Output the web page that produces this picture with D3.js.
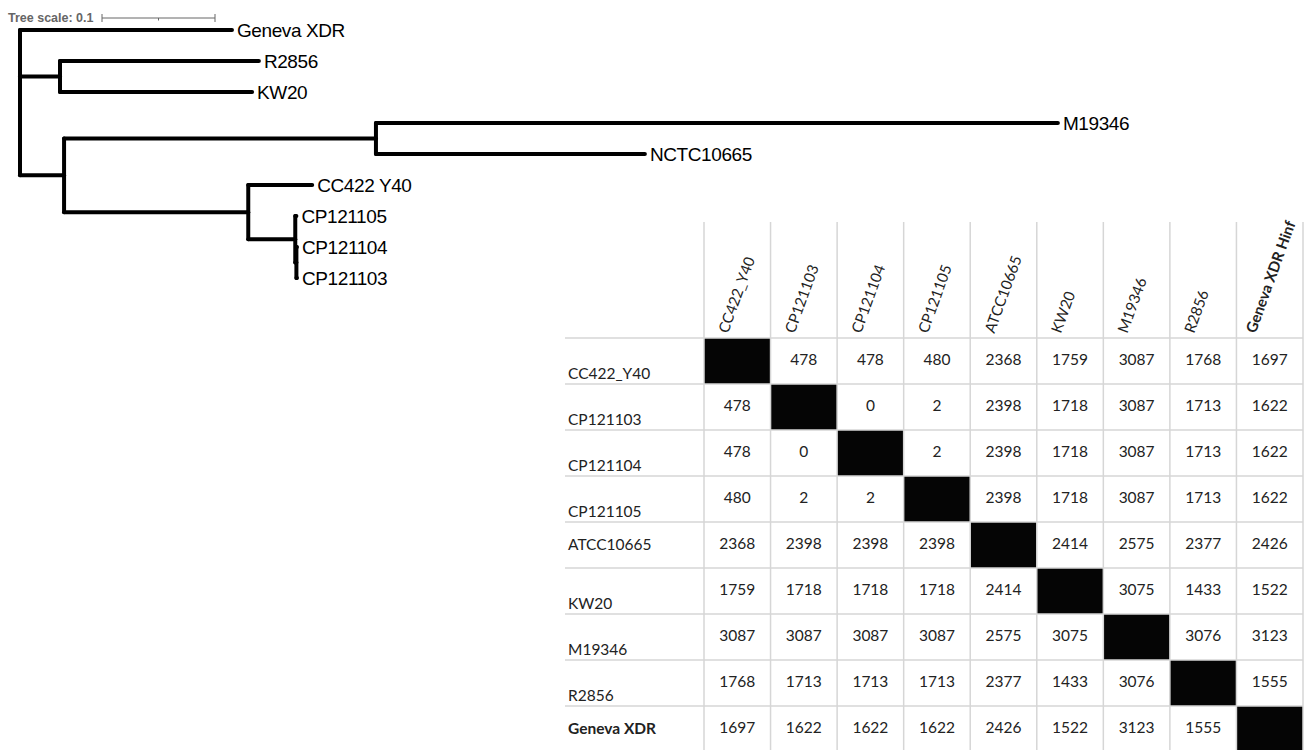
<!DOCTYPE html>
<html>
<head>
<meta charset="utf-8">
<script src="https://cdn.jsdelivr.net/npm/d3@7"></script>
<style>
  body { margin: 0; background: #fff; }
  svg { display: block; }
</style>
</head>
<body>
<div id="Area"></div>
<script>
// tree: [name, branch length, children]
var tree = ["root", 0, [
    ["Geneva XDR", 0.1876],
    ["", 0.0354, [
        ["R2856", 0.176],
        ["KW20", 0.170]
    ]],
    ["", 0.039, [
        ["", 0.276, [
            ["M19346", 0.6035],
            ["NCTC10665", 0.238]
        ]],
        ["", 0.163, [
            ["CC422 Y40", 0.0566],
            ["", 0.0416, [
                ["CP121105", 0.001],
                ["", 0.001, [
                    ["CP121104", 0.0005],
                    ["CP121103", 0.0005]
                ]]
            ]]
        ]]
    ]]
]];

// SNP distance matrix
var rowNames = ["CC422_Y40", "CP121103", "CP121104", "CP121105", "ATCC10665", "KW20", "M19346", "R2856", "Geneva XDR"];
var colNames = ["CC422_Y40", "CP121103", "CP121104", "CP121105", "ATCC10665", "KW20", "M19346", "R2856", "Geneva XDR Hinf"];
var distances = [
    [null, 478, 478, 480, 2368, 1759, 3087, 1768, 1697],
    [478, null, 0, 2, 2398, 1718, 3087, 1713, 1622],
    [478, 0, null, 2, 2398, 1718, 3087, 1713, 1622],
    [480, 2, 2, null, 2398, 1718, 3087, 1713, 1622],
    [2368, 2398, 2398, 2398, null, 2414, 2575, 2377, 2426],
    [1759, 1718, 1718, 1718, 2414, null, 3075, 1433, 1522],
    [3087, 3087, 3087, 3087, 2575, 3075, null, 3076, 3123],
    [1768, 1713, 1713, 1713, 2377, 1433, 3076, null, 1555],
    [1697, 1622, 1622, 1622, 2426, 1522, 3123, 1555, null]
];
var scaleBarValues = [0, 0.05, 0.1];

var width = 1304, height = 750;
var svg = d3.select("#Area").append("svg")
    .attr("width", width)
    .attr("height", height);

// ---------- tree ----------
var root = d3.hierarchy(tree, function(d) { return d[2]; });
root.eachBefore(function(n) {
    n.len = (n.parent ? n.parent.len : 0) + n.data[1];
});

var x = d3.scaleLinear().domain([0, 1]).range([20, 1150]);
var leaves = root.leaves();
var leafY = d3.scalePoint()
    .domain(leaves.map(function(d) { return d.data[0]; }))
    .range([30, 278]);

root.eachAfter(function(n) {
    if (!n.children) n.y = leafY(n.data[0]);
    else n.y = (n.children[0].y + n.children[n.children.length - 1].y) / 2;
});

var treeG = svg.append("g")
    .attr("fill", "none")
    .attr("stroke", "black")
    .attr("stroke-width", 4)
    .attr("stroke-linecap", "round");

// horizontal branches
treeG.selectAll("line.h")
    .data(root.descendants().filter(function(d) { return d.parent; }))
    .enter()
    .append("line")
        .attr("class", "h")
        .attr("x1", function(d) { return x(d.parent.len); })
        .attr("x2", function(d) { return x(d.len); })
        .attr("y1", function(d) { return d.y; })
        .attr("y2", function(d) { return d.y; });

// vertical connectors
treeG.selectAll("line.v")
    .data(root.descendants().filter(function(d) { return d.children; }))
    .enter()
    .append("line")
        .attr("class", "v")
        .attr("x1", function(d) { return x(d.len); })
        .attr("x2", function(d) { return x(d.len); })
        .attr("y1", function(d) { return d.children[0].y; })
        .attr("y2", function(d) { return d.children[d.children.length - 1].y; });

svg.append("g").selectAll("text")
    .data(leaves)
    .enter()
    .append("text")
        .attr("x", function(d) { return x(d.len) + 5; })
        .attr("y", function(d) { return d.y; })
        .attr("dy", "0.35em")
        .style("font-family", "'Liberation Sans', Arial, sans-serif")
        .style("font-size", "19px")
        .style("letter-spacing", "-0.4px")
        .text(function(d) { return d.data[0]; });

// tree scale bar
var sb = d3.scaleLinear().domain([0, 0.1]).range([102, 215]);
var sbG = svg.append("g").attr("stroke", "#666").attr("stroke-width", 1);
sbG.append("line")
    .attr("x1", sb(0)).attr("x2", sb(0.1))
    .attr("y1", 18).attr("y2", 18);
sbG.selectAll("line.tick")
    .data(scaleBarValues)
    .enter()
    .append("line")
        .attr("class", "tick")
        .attr("x1", function(d) { return sb(d); })
        .attr("x2", function(d) { return sb(d); })
        .attr("y1", function(d, i) { return (i === 1) ? 18 : 14; })
        .attr("y2", function(d, i) { return (i === 1) ? 20.5 : 22; });
svg.append("text")
    .attr("x", 8)
    .attr("y", 22)
    .style("font-family", "'Liberation Sans', Arial, sans-serif")
    .style("font-size", "12.5px")
    .style("font-weight", "bold")
    .attr("fill", "#666")
    .text("Tree scale: 0.1");

// ---------- distance table ----------
var colX = d3.scaleBand().domain(colNames).range([704, 1303]);
var rowY = d3.scaleBand().domain(rowNames).range([338, 752]);
var tableLeft = 565, headerTop = 222;
var gridColor = "#d6d6d6";
var tableFont = "Lato, 'Open Sans', sans-serif";

var table = svg.append("g");

// black diagonal cells
table.selectAll("rect.diag")
    .data(rowNames)
    .enter()
    .append("rect")
        .attr("class", "diag")
        .attr("x", function(d, i) { return colX(colNames[i]); })
        .attr("y", function(d) { return rowY(d); })
        .attr("width", colX.bandwidth())
        .attr("height", rowY.bandwidth())
        .attr("fill", "#050505");

// grid lines
var colEdges = colNames.map(function(c) { return colX(c); }).concat([colX.range()[1]]);
var rowEdges = rowNames.map(function(r) { return rowY(r); }).concat([rowY.range()[1]]);
table.selectAll("line.vg")
    .data(colEdges)
    .enter()
    .append("line")
        .attr("x1", function(d) { return d; })
        .attr("x2", function(d) { return d; })
        .attr("y1", headerTop)
        .attr("y2", height)
        .attr("stroke", gridColor)
        .attr("stroke-width", 1.5);
table.selectAll("line.hg")
    .data(rowEdges.slice(0, -1))
    .enter()
    .append("line")
        .attr("x1", tableLeft)
        .attr("x2", colX.range()[1])
        .attr("y1", function(d) { return d; })
        .attr("y2", function(d) { return d; })
        .attr("stroke", gridColor)
        .attr("stroke-width", 1.5);

// column headers (rotated)
table.selectAll("text.col")
    .data(colNames)
    .enter()
    .append("text")
        .attr("transform", function(d, i) {
            var dx = (i === colNames.length - 1) ? 19 : 24;
            return "translate(" + (colX(d) + dx) + ",334) rotate(-70)";
        })
        .style("font-family", tableFont)
        .style("font-size", "15px")
        .style("font-weight", function(d, i) { return (i === colNames.length - 1) ? "bold" : "normal"; })
        .attr("fill", "#222")
        .text(function(d) { return d; });

// row labels
var centeredLabels = ["ATCC10665", "Geneva XDR"];
table.selectAll("text.row")
    .data(rowNames)
    .enter()
    .append("text")
        .attr("x", 568)
        .attr("y", function(d) {
            var mid = rowY(d) + rowY.bandwidth() / 2;
            return centeredLabels.indexOf(d) >= 0 ? mid : mid + 13;
        })
        .attr("dy", "0.35em")
        .style("font-family", tableFont)
        .style("font-size", "15.5px")
        .style("font-weight", function(d, i) { return (i === rowNames.length - 1) ? "bold" : "normal"; })
        .attr("fill", "#222")
        .text(function(d) { return d; });

// cell values
var cells = [];
distances.forEach(function(row, i) {
    row.forEach(function(v, j) {
        if (v !== null) cells.push({r: rowNames[i], c: colNames[j], v: v});
    });
});
table.selectAll("text.val")
    .data(cells)
    .enter()
    .append("text")
        .attr("x", function(d) { return colX(d.c) + colX.bandwidth() / 2; })
        .attr("y", function(d) { return rowY(d.r) + rowY.bandwidth() / 2 - 1; })
        .attr("dy", "0.35em")
        .attr("text-anchor", "middle")
        .style("font-family", tableFont)
        .style("font-size", "15.5px")
        .attr("fill", "#222")
        .text(function(d) { return d.v; });
</script>
</body>
</html>
